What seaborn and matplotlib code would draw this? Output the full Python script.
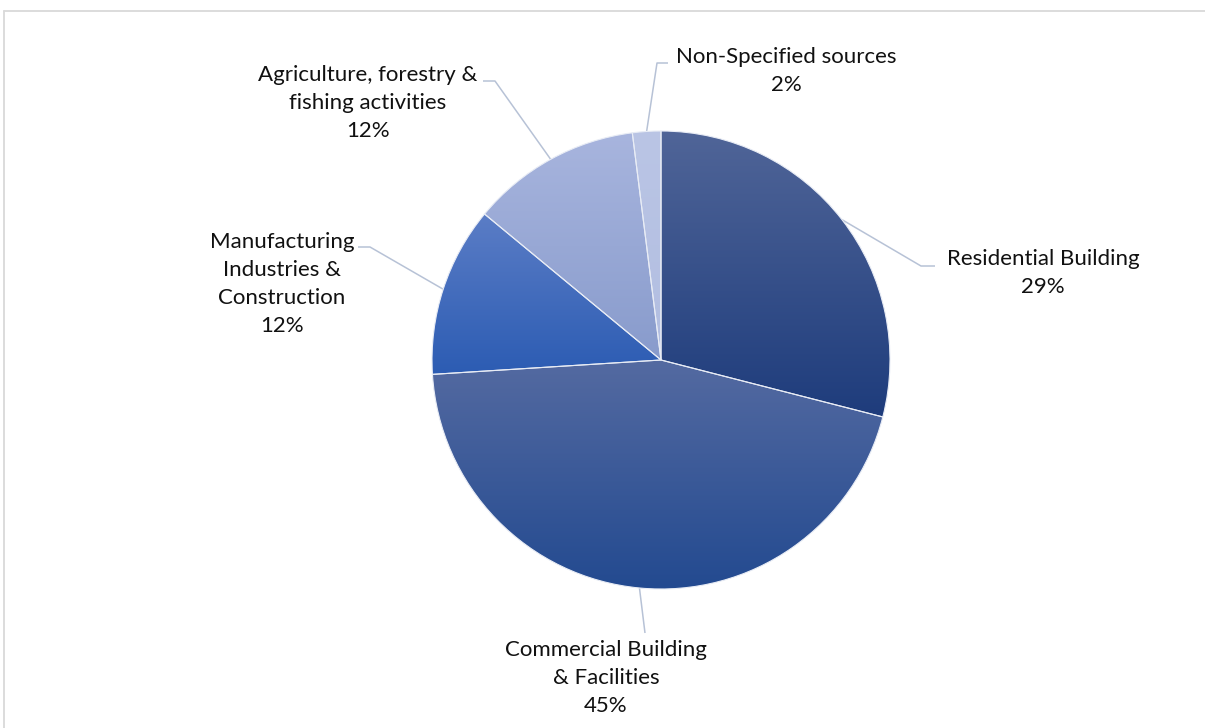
import numpy as np
import matplotlib
matplotlib.use("Agg")
import matplotlib.pyplot as plt
import seaborn as sns

# Emission shares by sector (%), drawn clockwise from 12 o'clock
categories = [
    "Residential Building",
    "Commercial Building\n& Facilities",
    "Manufacturing\nIndustries &\nConstruction",
    "Agriculture, forestry &\nfishing activities",
    "Non-Specified sources",
]
shares = [29, 45, 12, 12, 2]

# Vertical gradient per slice: light at the top, darker at the bottom
top_colors = ["#506598", "#546aa1", "#5b7dc6", "#a8b5de", "#bac5e5"]
bottom_colors = ["#1e3c7c", "#234a90", "#2c5cb3", "#889bcc", "#b2bee1"]

sns.set_style("white")
plt.rcParams["font.family"] = ["Lato", "DejaVu Sans"]

W, H = 1205, 728
fig = plt.figure(figsize=(W / 100, H / 100), dpi=100)
ax = fig.add_axes([0, 0, 1, 1])

cx, cy, radius = 661, H - 360, 229
wedges, _ = ax.pie(shares, startangle=90, counterclock=False,
                   center=(cx, cy), radius=radius,
                   wedgeprops=dict(linewidth=0.8, edgecolor="#e8ecf5"))

for wedge, c_top, c_bot in zip(wedges, top_colors, bottom_colors):
    ext = wedge.get_path().get_extents(wedge.get_patch_transform())
    cmap = sns.blend_palette([c_top, c_bot], n_colors=256, as_cmap=True)
    grad = np.linspace(0, 1, 256).reshape(-1, 1)
    img = ax.imshow(grad, cmap=cmap, aspect="auto", origin="upper",
                    extent=(ext.x0, ext.x1, ext.y0, ext.y1),
                    interpolation="bilinear", zorder=1)
    img.set_clip_path(wedge)
    wedge.set_facecolor("none")
    wedge.set_zorder(2)

ax.set_xlim(0, W)
ax.set_ylim(0, H)
ax.set_aspect("equal")
ax.axis("off")

# Label layout: text centre, elbow of the leader line, end of the short horizontal stub
label_xy = [(1043, 273), (606, 678), (282, 284), (368, 103), (786, 71)]
elbow_xy = [(921, 266), (645, 633), (370, 247), (495, 81), (657, 63)]
stub_xy = [(935, 266), (645, 633), (358, 247), (483, 81), (668, 63)]

leader_color = "#b7c2d6"
for wedge, name, share, lxy, exy, sxy in zip(wedges, categories, shares,
                                              label_xy, elbow_xy, stub_xy):
    mid = np.deg2rad((wedge.theta1 + wedge.theta2) / 2)
    px, py = cx + radius * np.cos(mid), cy + radius * np.sin(mid)
    xs = [px, exy[0], sxy[0]]
    ys = [py, H - exy[1], H - sxy[1]]
    ax.plot(xs, ys, color=leader_color, lw=1.1, zorder=0,
            solid_capstyle="butt")
    ax.text(lxy[0], H - lxy[1], f"{name}\n{share}%", ha="center",
            va="center", multialignment="center", fontsize=16,
            color="#111111", linespacing=1.5, zorder=3)

# Chart area border (top and left edges visible)
border = "#d9d9d9"
ax.plot([4, W], [H - 11, H - 11], color=border, lw=1.3, zorder=0)
ax.plot([4, 4], [0, H - 11], color=border, lw=1.3, zorder=0)

fig.savefig("out.png", dpi=100)
